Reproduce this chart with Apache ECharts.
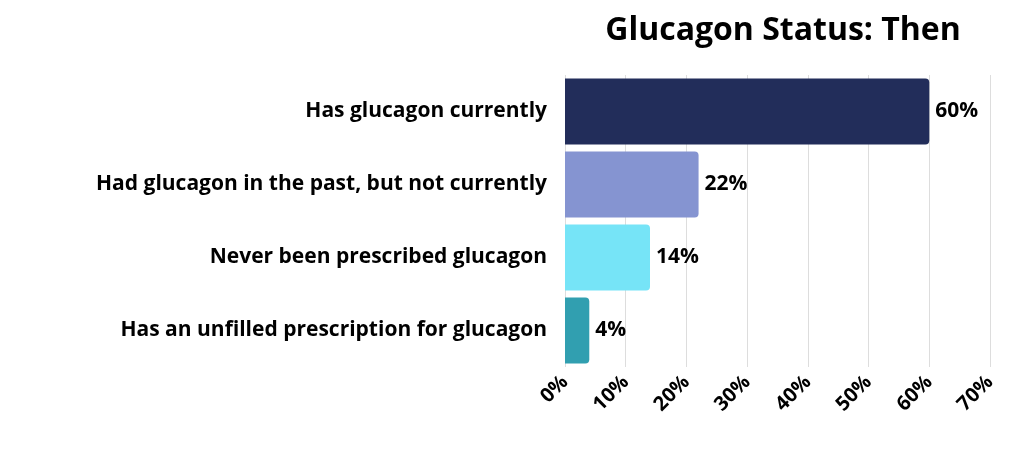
<!DOCTYPE html>
<html><head><meta charset="utf-8">
<script src="https://cdn.jsdelivr.net/npm/echarts@6/dist/echarts.min.js"></script>
<style>html,body{margin:0;padding:0;background:#fff}#c{width:1024px;height:452px}</style>
</head><body><div id="c"></div>
<script>
const categories = ["Has glucagon currently","Had glucagon in the past, but not currently","Never been prescribed glucagon","Has an unfilled prescription for glucagon"];
const values = [60,22,14,4];
const colors = ["#222d5a","#8594d1","#76e4f7","#319fb0"];
const chart = echarts.init(document.getElementById('c'));
const font = "'Open Sans', sans-serif";
chart.setOption({
  title:{text:"Glucagon Status: Then",left:778,top:10,textAlign:'center',textStyle:{fontFamily:font,fontSize:32,fontWeight:'bold',color:'#000'}},
  grid:{left:565,right:34,top:75,bottom:85},
  xAxis:{type:'value',min:0,max:70,interval:10,
    axisLabel:{formatter:'{value}%',rotate:45,fontFamily:font,fontSize:20,fontWeight:'bold',color:'#000',margin:12},
    splitLine:{lineStyle:{color:'#ddd'}},axisLine:{show:false},axisTick:{show:false}},
  yAxis:{type:'category',inverse:true,data:categories,
    axisLabel:{fontFamily:font,fontSize:21,fontWeight:'bold',color:'#000',margin:18},
    axisLine:{show:false},axisTick:{show:false}},
  series:[{type:'bar',barWidth:66,
    data:values.map((v,i)=>({value:v,itemStyle:{color:colors[i],borderRadius:[0,4,4,0]}})),
    label:{show:true,position:'right',formatter:'{c}%',fontFamily:font,fontSize:21,fontWeight:'bold',color:'#000',distance:6}}]
});
</script></body></html>
